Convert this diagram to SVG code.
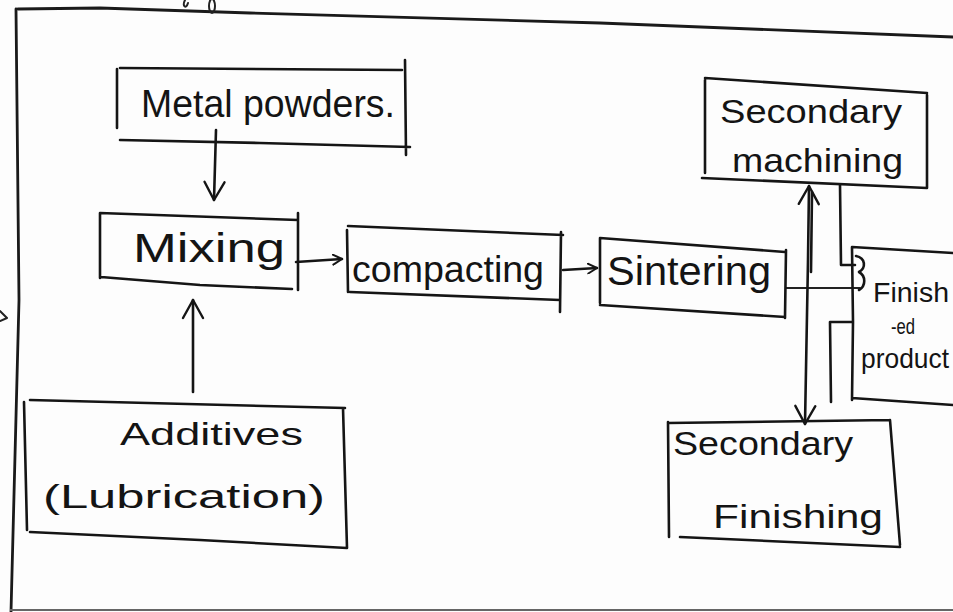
<svg xmlns="http://www.w3.org/2000/svg" width="953" height="612" viewBox="0 0 953 612">
<style>
.ink{fill:none;stroke:#151515;stroke-width:2.6;stroke-linecap:round;stroke-linejoin:round}
.thin{fill:none;stroke:#222;stroke-width:2;stroke-linecap:round;stroke-linejoin:round}
.page{fill:none;stroke:#1a1a1a;stroke-width:2.8;stroke-linecap:round}
.t{font-family:"Liberation Sans","DejaVu Sans",sans-serif;fill:#141414}
</style>
<defs>
<marker id="ah" viewBox="0 0 12 12" refX="10" refY="6" markerWidth="12" markerHeight="12" markerUnits="userSpaceOnUse" orient="auto">
<path d="M1,1 L10,6 L1,11" fill="none" stroke="#151515" stroke-width="2" stroke-linecap="round" stroke-linejoin="round"/>
</marker>
<marker id="ahb" viewBox="0 0 24 24" refX="20" refY="12" markerWidth="24" markerHeight="24" markerUnits="userSpaceOnUse" orient="auto-start-reverse">
<path d="M2,2 L20,12 L2,22" fill="none" stroke="#151515" stroke-width="2.4" stroke-linecap="round" stroke-linejoin="round"/>
</marker>
</defs>
<rect width="953" height="612" fill="#fdfdfd"/>
<g id="page">
<path class="page" d="M18,9 L100,8 L250,13 L600,23 L953,37"/>
<path class="page" d="M16,9 L19,300 L11,612"/>
<path d="M10,610 L953,610" stroke="#666" stroke-width="2" fill="none"/>
<path class="thin" d="M185,0 C182,6 186,10 188,3"/>
<ellipse cx="212" cy="6" rx="3" ry="7" class="thin"/>
<path class="thin" d="M0,311 L7,318 L0,321"/>
</g>
<g id="connectors">
<path class="ink" d="M216,130 L214,200" marker-end="url(#ahb)"/>
<path class="ink" d="M193,392 L193,300" marker-end="url(#ahb)"/>
<path class="ink" d="M296,262 L342,259" marker-end="url(#ah)"/>
<path class="ink" d="M563,270 L597,268" marker-end="url(#ah)"/>
<path class="thin" d="M786,288 L860,288"/>
<path class="ink" d="M856,256 C866,258 866,268 859,272 C866,276 866,286 859,290"/>
<path class="ink" d="M809,186 L808,260 L805,424" marker-start="url(#ahb)" marker-end="url(#ahb)"/>
<path class="ink" d="M812,192 L811,272"/>
<path class="ink" d="M840,185 L841,265 L855,265"/>
<path class="ink" d="M852,322 L830,322 L831,402"/>
</g>
<g id="metal-powders">
<path class="ink" d="M117,69 L117,128 M120,68 L402,70 M405,60 L406,155 M120,140 L260,143 L410,147"/>
<text class="t" x="141" y="117" font-size="38" textLength="254" lengthAdjust="spacingAndGlyphs">Metal powders.</text>
</g>
<g id="mixing">
<path class="ink" d="M100,213 L100,278 M100,213 L298,220 M298,213 L298,290 M101,277 L200,285 L292,289"/>
<text class="t" x="133" y="262" font-size="40" textLength="152" lengthAdjust="spacingAndGlyphs">Mixing</text>
</g>
<g id="compacting">
<path class="ink" d="M347,230 L348,292 M348,226 L563,235 M561,232 L560,312 M350,292 L560,300"/>
<text class="t" x="352" y="282" font-size="37" textLength="192" lengthAdjust="spacingAndGlyphs">compacting</text>
</g>
<g id="sintering">
<path class="ink" d="M600,238 L600,303 M600,238 L785,252 M786,250 L785,318 M600,305 L785,317"/>
<text class="t" x="607" y="285" font-size="40" textLength="164" lengthAdjust="spacingAndGlyphs">Sintering</text>
</g>
<g id="secondary-machining">
<path class="ink" d="M705,80 L705,173 M705,78 L927,93 M927,95 L927,188 M702,178 L927,188"/>
<text class="t" x="720" y="123" font-size="34" textLength="182" lengthAdjust="spacingAndGlyphs">Secondary</text>
<text class="t" x="732" y="172" font-size="34" textLength="171" lengthAdjust="spacingAndGlyphs">machining</text>
</g>
<g id="finished-product">
<path class="ink" d="M852,247 L953,253 M852,247 L853,322 L852,400 M852,398 L953,405"/>
<text class="t" x="873" y="302" font-size="28" textLength="76" lengthAdjust="spacingAndGlyphs">Finish</text>
<text class="t" x="891" y="334" font-size="22" textLength="24" lengthAdjust="spacingAndGlyphs">-ed</text>
<text class="t" x="861" y="368" font-size="28" textLength="88" lengthAdjust="spacingAndGlyphs">product</text>
</g>
<g id="secondary-finishing">
<path class="ink" d="M668,422 L669,537 M668,423 L890,420 M890,420 L900,545 M680,537 L900,547"/>
<text class="t" x="673" y="455" font-size="34" textLength="180" lengthAdjust="spacingAndGlyphs">Secondary</text>
<text class="t" x="713" y="528" font-size="34" textLength="170" lengthAdjust="spacingAndGlyphs">Finishing</text>
</g>
<g id="additives">
<path class="ink" d="M24,402 L27,530 M30,400 L345,408 M343,408 L347,548 M30,532 L200,540 L347,548"/>
<text class="t" x="120" y="445" font-size="32" textLength="183" lengthAdjust="spacingAndGlyphs">Additives</text>
<text class="t" x="43" y="508" font-size="34" textLength="282" lengthAdjust="spacingAndGlyphs">(Lubrication)</text>
</g>
</svg>
